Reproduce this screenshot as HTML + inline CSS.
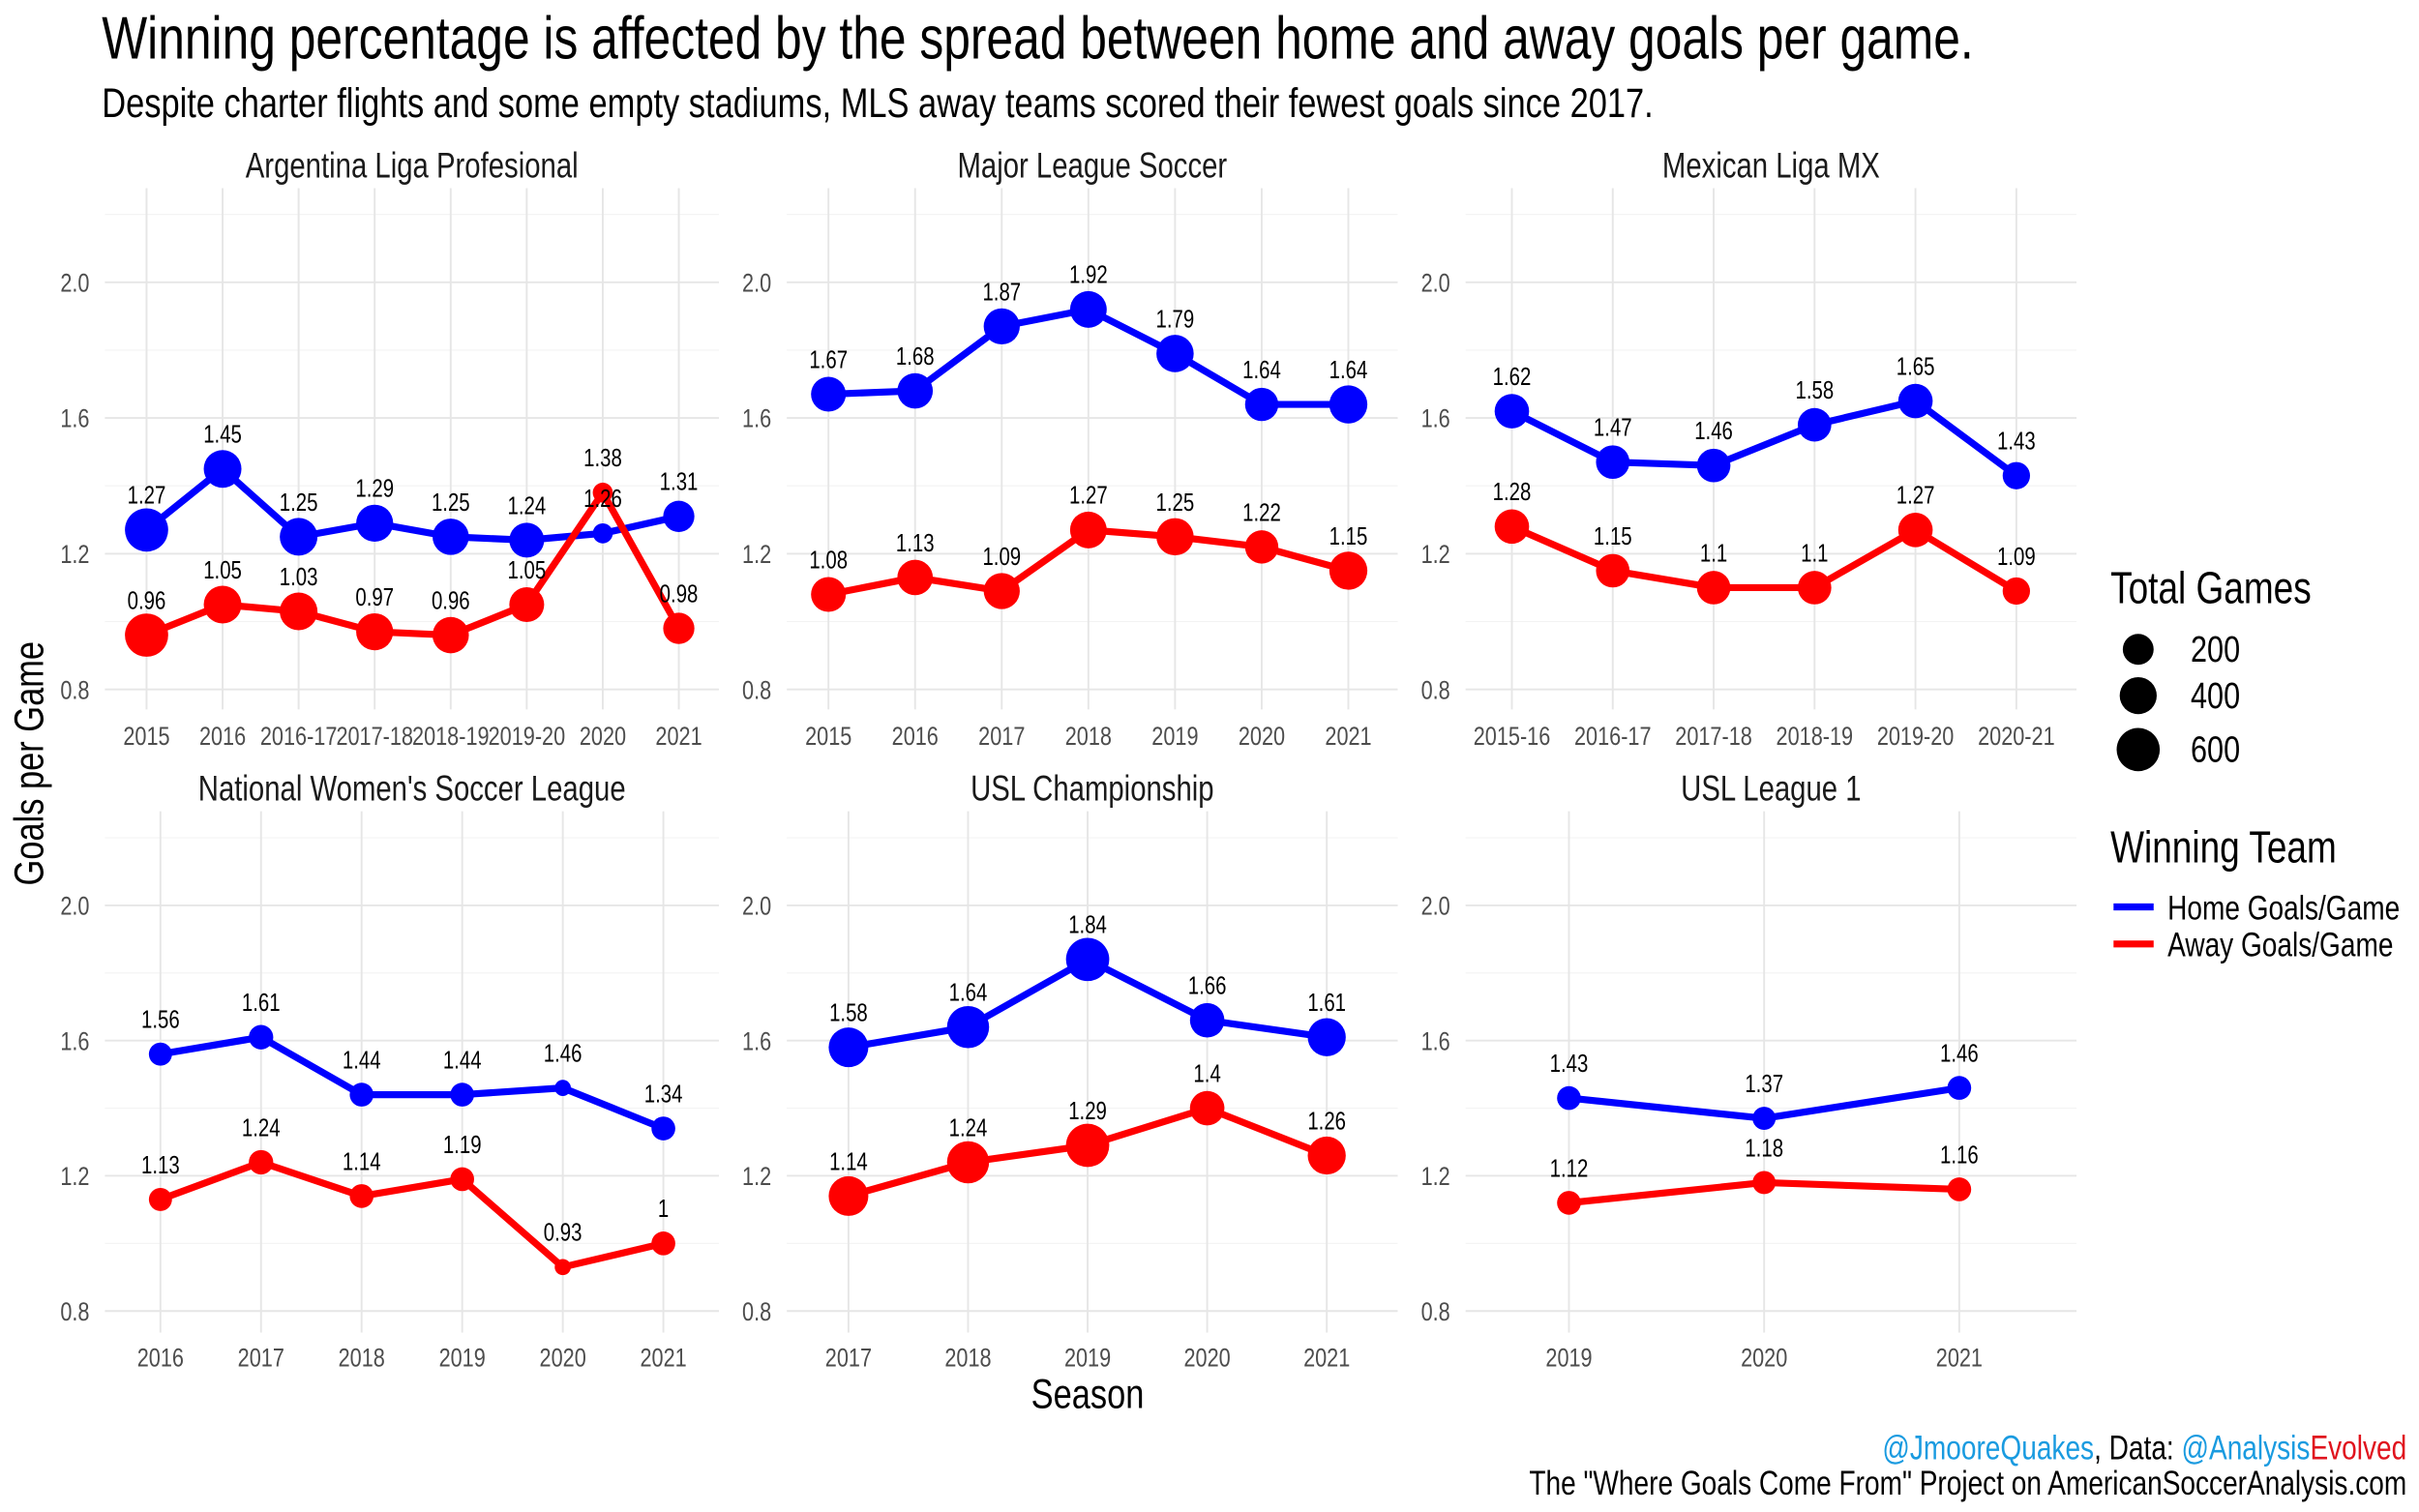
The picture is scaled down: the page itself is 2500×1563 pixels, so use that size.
<!DOCTYPE html>
<html><head><meta charset="utf-8">
<style>
html,body{margin:0;padding:0;background:#fff;}
svg{display:block;font-family:"Liberation Sans Narrow","Liberation Sans",sans-serif;}
</style></head>
<body>
<svg id="chart" width="2500" height="1563" viewBox="0 0 1568 980.3" xmlns="http://www.w3.org/2000/svg">
<rect width="1568" height="981" fill="#fff"/>
<text x="66" y="38" font-size="39" fill="#000">Winning percentage is affected by the spread between home and away goals per game.</text>
<text x="66" y="76" font-size="27" fill="#000">Despite charter flights and some empty stadiums, MLS away teams scored their fewest goals since 2017.</text>
<text transform="translate(28,495) rotate(-90) scale(0.8,1)" text-anchor="middle" font-size="27" fill="#000">Goals per Game</text>
<text x="705" y="913" text-anchor="middle" font-size="27" fill="#000">Season</text>
<g id="legend">
<text x="1368" y="391" font-size="29">Total Games</text>
<circle cx="1386" cy="421" r="10"/>
<circle cx="1386" cy="451" r="12"/>
<circle cx="1386" cy="486" r="14"/>
<text x="1420" y="429" font-size="24">200</text>
<text x="1420" y="459" font-size="24">400</text>
<text x="1420" y="494" font-size="24">600</text>
<text x="1368" y="559" font-size="29">Winning Team</text>
<line x1="1370" x2="1396" y1="588" y2="588" stroke="#0000ff" stroke-width="4.5"/>
<line x1="1370" x2="1396" y1="612" y2="612" stroke="#ff0000" stroke-width="4.5"/>
<text x="1405" y="596" font-size="22">Home Goals/Game</text>
<text x="1405" y="620" font-size="22">Away Goals/Game</text>
</g>
<text x="1560" y="946" text-anchor="end" font-size="22"><tspan fill="#1a9be0">@JmooreQuakes</tspan><tspan fill="#000">, Data: </tspan><tspan fill="#1a9be0">@Analysis</tspan><tspan fill="#e0141e">Evolved</tspan></text>
<text x="1560" y="969" text-anchor="end" font-size="22">The "Where Goals Come From" Project on AmericanSoccerAnalysis.com</text>
</svg>
<script>
const argCats=["2015","2016","2016-17","2017-18","2018-19","2019-20","2020","2021"];
const argHome=[1.27,1.45,1.25,1.29,1.25,1.24,1.26,1.31];
const argAway=[0.96,1.05,1.03,0.97,0.96,1.05,1.38,0.98];
const argGames=[600,420,420,400,380,340,60,250];
const mlsCats=["2015","2016","2017","2018","2019","2020","2021"];
const mlsHome=[1.67,1.68,1.87,1.92,1.79,1.64,1.64];
const mlsAway=[1.08,1.13,1.09,1.27,1.25,1.22,1.15];
const mlsGames=[340,357,374,391,408,300,430];
const mexCats=["2015-16","2016-17","2017-18","2018-19","2019-20","2020-21"];
const mexHome=[1.62,1.47,1.46,1.58,1.65,1.43];
const mexAway=[1.28,1.15,1.1,1.1,1.27,1.09];
const mexGames=[330,306,306,306,330,170];
const nwslCats=["2016","2017","2018","2019","2020","2021"];
const nwslHome=[1.56,1.61,1.44,1.44,1.46,1.34];
const nwslAway=[1.13,1.24,1.14,1.19,0.93,1.0];
const nwslGames=[100,120,110,110,25,110];
const uslcCats=["2017","2018","2019","2020","2021"];
const uslcHome=[1.58,1.64,1.84,1.66,1.61];
const uslcAway=[1.14,1.24,1.29,1.4,1.26];
const uslcGames=[480,560,600,330,430];
const usl1Cats=["2019","2020","2021"];
const usl1Home=[1.43,1.37,1.46];
const usl1Away=[1.12,1.18,1.16];
const usl1Games=[110,100,110];
const yTicks=[0.8,1.2,1.6,2.0];
const yTickLabels=["0.8","1.2","1.6","2.0"];

const NS="http://www.w3.org/2000/svg";
const svg=document.getElementById('chart');
function mk(tag,attrs,parent){const e=document.createElementNS(NS,tag);for(const k in attrs)e.setAttribute(k,attrs[k]);(parent||svg).appendChild(e);return e;}
function rad(g){return 3+0.45*Math.sqrt(g);}
function fmt(v){return String(Math.round(v*100)/100);}
const panels=[
 {title:"Argentina Liga Profesional",slug:"argentina",cats:argCats,home:argHome,away:argAway,games:argGames,x0:95,x1:440,row:0},
 {title:"Major League Soccer",slug:"mls",cats:mlsCats,home:mlsHome,away:mlsAway,games:mlsGames,x0:537,x1:874,row:0},
 {title:"Mexican Liga MX",slug:"liga-mx",cats:mexCats,home:mexHome,away:mexAway,games:mexGames,x0:980,x1:1307,row:0},
 {title:"National Women's Soccer League",slug:"nwsl",cats:nwslCats,home:nwslHome,away:nwslAway,games:nwslGames,x0:104,x1:430,row:1},
 {title:"USL Championship",slug:"usl-championship",cats:uslcCats,home:uslcHome,away:uslcAway,games:uslcGames,x0:550,x1:860,row:1},
 {title:"USL League 1",slug:"usl-league-1",cats:usl1Cats,home:usl1Home,away:usl1Away,games:usl1Games,x0:1017,x1:1270,row:1}
];
const rowY=[{y20:183,y08:447,strip:115,top:122,bottom:460,xl:483},{y20:587,y08:850,strip:519,top:526,bottom:864,xl:886}];
const colBounds=[[68,466],[510,906],[950,1346]];
panels.forEach((p,i)=>{
 const R=rowY[p.row];const cb=colBounds[i%3];
 const g=mk('g',{});
 
 
 const n=p.cats.length;const step=(p.x1-p.x0)/(n-1);
 const xs=k=>p.x0+k*step;
 const ys=v=>R.y08+(v-0.8)*(R.y20-R.y08)/1.2;
 const st=mk('text',{x:(cb[0]+cb[1])/2,y:R.strip,'text-anchor':'middle','font-size':23,fill:'#1a1a1a'},g);
 st.textContent=p.title;
 for(let v=0.8;v<=2.21;v+=0.2){const y=ys(v);const major=Math.abs((v*10)%4)<0.01||Math.abs((v*10)%4-4)<0.01;
  const l=mk('line',{x1:cb[0],x2:cb[1],y1:y,y2:y,stroke:major?'#e6e6e6':'#f3f3f3','stroke-width':major?1.2:0.7},g);
  }
 yTicks.forEach((v,k)=>{const t=mk('text',{x:cb[0]-10,y:ys(v)+6,'text-anchor':'end','font-size':17,fill:'#4d4d4d'},g);
  t.textContent=yTickLabels[k];});
 p.cats.forEach((c,k)=>{const l=mk('line',{x1:xs(k),x2:xs(k),y1:R.top,y2:R.bottom,stroke:'#e6e6e6','stroke-width':1.2},g);
  
  const t=mk('text',{x:xs(k),y:R.xl,'text-anchor':'middle','font-size':17,fill:'#4d4d4d'},g);
  t.textContent=c;});
 [['home',p.home,'#0000ff'],['away',p.away,'#ff0000']].forEach(([nm,vals,col])=>{
  const pts=vals.map((v,k)=>xs(k)+','+ys(v)).join(' ');
  const pl=mk('polyline',{points:pts,fill:'none',stroke:col,'stroke-width':4.5,'stroke-linejoin':'round'},g);
  
  vals.forEach((v,k)=>{const c=mk('circle',{cx:xs(k),cy:ys(v),r:rad(p.games[k]),fill:col},g);
   });
 });
 [p.home,p.away].forEach((vals,si)=>vals.forEach((v,k)=>{const t=mk('text',{x:xs(k),y:ys(v)-17,'text-anchor':'middle','font-size':16,fill:'#000'},g);
  t.textContent=fmt(v);}));
});
// condense all horizontal text (approximate a condensed typeface)
svg.querySelectorAll('text').forEach(t=>{
 if(t.hasAttribute('transform'))return;
 const x=t.getAttribute('x'),y=t.getAttribute('y');
 t.setAttribute('x',0);t.setAttribute('y',0);
 t.setAttribute('transform','translate('+x+' '+y+') scale(0.8 1)');
});
</script>
</body></html>
